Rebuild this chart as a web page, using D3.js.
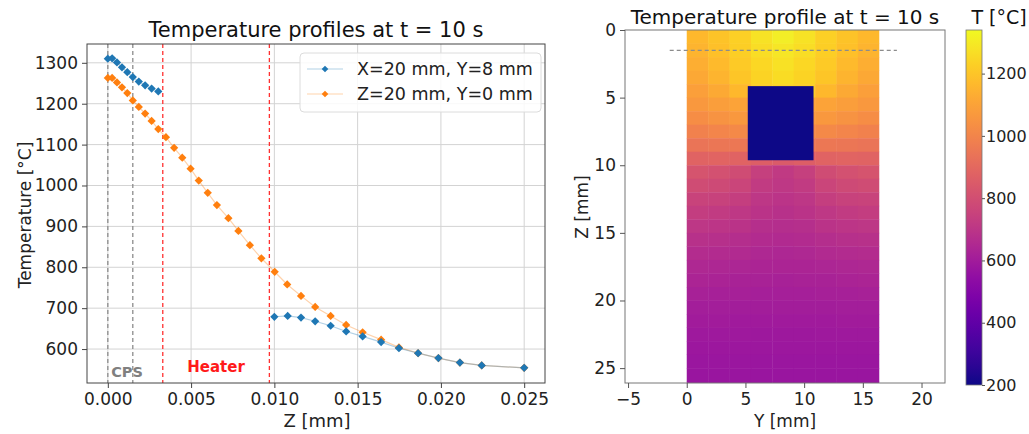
<!DOCTYPE html>
<html>
<head>
<meta charset="utf-8">
<script src="https://cdn.jsdelivr.net/npm/d3@7"></script>
<style>
  body { margin: 0; background: #fff; }
  svg { font-family: "DejaVu Sans", sans-serif; }
</style>
</head>
<body>
<svg id="chart" width="1029" height="434"></svg>
<script>
// ---- left plot data (Z in metres, T in °C) ----
var zBlue = [0, 0.00026, 0.00055, 0.00085, 0.00117, 0.0015, 0.00186, 0.00224, 0.00263, 0.00303,
             null,
             0.0100, 0.0108, 0.0116, 0.01245, 0.01338, 0.01431, 0.0153, 0.01641, 0.01748, 0.01863, 0.01985, 0.02114, 0.02245, 0.0250];
var tBlue = [1310, 1311, 1301, 1289, 1277, 1265, 1254, 1245, 1237, 1230,
             null,
             679, 681, 677, 668, 657, 643, 631, 617, 602, 590, 578, 567, 560, 554];

var zOrange = [0, 0.00026, 0.00055, 0.00085, 0.00117, 0.0015, 0.00186, 0.00224, 0.00263, 0.00303,
               0.00349, 0.00398, 0.00447, 0.00497, 0.00546, 0.0060, 0.00655, 0.00724, 0.00784, 0.00853, 0.00922,
               0.01002, 0.01077, 0.0116, 0.01245, 0.01338, 0.01431, 0.0153, 0.01641, 0.01748, 0.01863, 0.01985, 0.02114, 0.02245, 0.0250];
var tOrange = [1263, 1263, 1252, 1240, 1226, 1208, 1192, 1176, 1158, 1138,
               1118, 1092, 1068, 1041, 1012, 982, 952, 920, 889, 854, 822,
               789, 758, 730, 703, 681, 659, 641, 623, 604, 590, 578, 567, 560, 554];

var seriesNames = ["X=20 mm, Y=8 mm", "Z=20 mm, Y=0 mm"];
var seriesColors = ["#1f77b4", "#ff7f0e"];

var leftXTicks = [0, 0.005, 0.010, 0.015, 0.020, 0.025];
var leftYTicks = [600, 700, 800, 900, 1000, 1100, 1200, 1300];
var cpsLines = [0, 0.0015];       // grey dashed
var heaterLines = [0.0033, 0.0097]; // red dashed

// ---- right plot data (heat map, rows = 1 mm in Z, columns across Y 0..16.4 mm) ----
var heatWidth = 16.4;
var heatDepth = 26.1;
var heatRows = [
  [1165, 1195, 1230, 1280, 1310, 1280, 1230, 1195, 1165],
  [1150, 1185, 1225, 1265, 1290, 1265, 1225, 1185, 1150],
  [1135, 1170, 1215, 1250, 1275, 1250, 1215, 1170, 1135],
  [1115, 1150, 1200, 1240, 1260, 1240, 1200, 1150, 1115],
  [1090, 1120, 1165, 1225, 1240, 1225, 1165, 1120, 1090],
  [1065, 1085, 1100, 1100, 1100, 1100, 1100, 1085, 1065],
  [1030, 1050, 1065, 1065, 1065, 1065, 1065, 1050, 1030],
  [990, 1005, 1015, 1015, 1015, 1015, 1015, 1005, 990],
  [940, 950, 955, 955, 955, 955, 955, 950, 940],
  [880, 885, 880, 860, 850, 860, 880, 885, 880],
  [820, 810, 790, 740, 720, 740, 790, 810, 820],
  [790, 780, 765, 725, 710, 725, 765, 780, 790],
  [755, 750, 735, 705, 695, 705, 735, 750, 755],
  [730, 722, 712, 690, 682, 690, 712, 722, 730],
  [705, 700, 690, 675, 668, 675, 690, 700, 705],
  [685, 680, 672, 662, 657, 662, 672, 680, 685],
  [665, 662, 655, 648, 645, 648, 655, 662, 665],
  [648, 645, 640, 636, 634, 636, 640, 645, 648],
  [633, 630, 627, 624, 622, 624, 627, 630, 633],
  [620, 618, 615, 613, 612, 613, 615, 618, 620],
  [608, 607, 605, 603, 602, 603, 605, 607, 608],
  [598, 597, 596, 595, 594, 595, 596, 597, 598],
  [590, 589, 588, 587, 587, 587, 588, 589, 590],
  [582, 582, 581, 580, 580, 580, 581, 582, 582],
  [576, 576, 575, 575, 575, 575, 575, 576, 576],
  [570, 570, 570, 570, 570, 570, 570, 570, 570],
  [566, 566, 566, 566, 566, 566, 566, 566, 566]
];
// sample block (Y0, Y1, Z0, Z1 in mm, T)
var sampleBlock = [5.2, 10.8, 4.15, 9.63, 200];
var cpsDepth = 1.5;
var cpsLineY = [-1.45, 17.9];

var rightXTicks = [-5, 0, 5, 10, 15, 20];
var rightYTicks = [0, 5, 10, 15, 20, 25];
var cbarTicks = [200, 400, 600, 800, 1000, 1200];
var cbarDomain = [200, 1340];

var svg = d3.select("#chart");

// =============== left plot ===============
var L = { left: 87, right: 545, top: 44, bottom: 383 };
var x = d3.scaleLinear().domain([-0.00125, 0.02625]).range([L.left, L.right]);
var y = d3.scaleLinear().domain([517, 1346]).range([L.bottom, L.top]);

var gL = svg.append("g");

// grid
gL.selectAll(".gx").data(leftXTicks).enter().append("line")
  .attr("x1", d => x(d)).attr("x2", d => x(d))
  .attr("y1", L.top).attr("y2", L.bottom)
  .attr("stroke", "#d3d3d3").attr("stroke-width", 1);
gL.selectAll(".gy").data(leftYTicks).enter().append("line")
  .attr("x1", L.left).attr("x2", L.right)
  .attr("y1", d => y(d)).attr("y2", d => y(d))
  .attr("stroke", "#d3d3d3").attr("stroke-width", 1);

// dashed region markers
gL.selectAll(".cps").data(cpsLines).enter().append("line")
  .attr("x1", d => x(d)).attr("x2", d => x(d))
  .attr("y1", L.top).attr("y2", L.bottom)
  .attr("stroke", "#8c8c8c").attr("stroke-width", 1.3).attr("stroke-dasharray", "4,3");
gL.selectAll(".heat").data(heaterLines).enter().append("line")
  .attr("x1", d => x(d)).attr("x2", d => x(d))
  .attr("y1", L.top).attr("y2", L.bottom)
  .attr("stroke", "#ff3030").attr("stroke-width", 1.3).attr("stroke-dasharray", "4,3");

gL.append("text").attr("x", 127).attr("y", 377).attr("text-anchor", "middle")
  .attr("font-size", 14.5).attr("font-weight", "bold").attr("fill", "#808080").text("CPS");
gL.append("text").attr("x", 216).attr("y", 372).attr("text-anchor", "middle")
  .attr("font-size", 15).attr("font-weight", "bold").attr("fill", "#ff1a1a").text("Heater");

// series
var series = [
  d3.zip(zBlue, tBlue),
  d3.zip(zOrange, tOrange)
];
var line = d3.line()
  .defined(d => d[0] != null && d[1] != null)
  .x(d => x(d[0])).y(d => y(d[1]));
var diamond = d3.symbol().type(d3.symbolSquare).size(34);

// orange first so blue points sit on top where they overlap
[1, 0].forEach(function(i) {
  var s = series[i];
  gL.append("path").datum(s)
    .attr("d", line)
    .attr("fill", "none")
    .attr("stroke", seriesColors[i])
    .attr("stroke-opacity", 0.35)
    .attr("stroke-width", 1.2);
  gL.selectAll(".pt" + i).data(s.filter(d => d[0] != null)).enter().append("path")
    .attr("d", diamond)
    .attr("transform", d => "translate(" + x(d[0]) + "," + y(d[1]) + ") rotate(45)")
    .attr("fill", seriesColors[i]);
});

// frame and axes
gL.append("rect").attr("x", L.left).attr("y", L.top)
  .attr("width", L.right - L.left).attr("height", L.bottom - L.top)
  .attr("fill", "none").attr("stroke", "#444").attr("stroke-width", 1);

var xAxisL = gL.append("g").attr("transform", "translate(0," + L.bottom + ")")
  .call(d3.axisBottom(x).tickValues(leftXTicks).tickFormat(d3.format(".3f")).tickSizeOuter(0).tickSize(5).tickPadding(4));
var yAxisL = gL.append("g").attr("transform", "translate(" + L.left + ",0)")
  .call(d3.axisLeft(y).tickValues(leftYTicks).tickFormat(d3.format("d")).tickSizeOuter(0).tickSize(5).tickPadding(4));
[xAxisL, yAxisL].forEach(function(a) {
  a.select(".domain").remove();
  a.selectAll("text").attr("font-size", 17).attr("fill", "#222").attr("font-family", "DejaVu Sans");
  a.selectAll("line").attr("stroke", "#444");
});
xAxisL.selectAll("text").attr("dy", "0.75em");

gL.append("text").attr("x", 316).attr("y", 37).attr("text-anchor", "middle")
  .attr("font-size", 21).attr("fill", "#111").text("Temperature profiles at t = 10 s");
gL.append("text").attr("x", 317).attr("y", 427).attr("text-anchor", "middle")
  .attr("font-size", 18).attr("fill", "#222").text("Z [mm]");
gL.append("text").attr("transform", "translate(31,215) rotate(-90)").attr("text-anchor", "middle")
  .attr("font-size", 17).attr("fill", "#222").text("Temperature [°C]");

// legend
var leg = gL.append("g");
leg.append("rect").attr("x", 300).attr("y", 53).attr("width", 241).attr("height", 59)
  .attr("rx", 4).attr("fill", "#fff").attr("fill-opacity", 0.85)
  .attr("stroke", "#dcdcdc");
seriesNames.forEach(function(name, i) {
  var ly = 69 + i * 25;
  leg.append("line").attr("x1", 307).attr("x2", 343).attr("y1", ly).attr("y2", ly)
    .attr("stroke", seriesColors[i]).attr("stroke-opacity", 0.35).attr("stroke-width", 1.2);
  leg.append("path").attr("d", d3.symbol().type(d3.symbolSquare).size(22))
    .attr("transform", "translate(325," + ly + ") rotate(45)").attr("fill", seriesColors[i]);
  leg.append("text").attr("x", 357).attr("y", ly + 6).attr("font-size", 17.5)
    .attr("fill", "#222").text(name);
});

// =============== right plot (heat map) ===============
var R = { left: 625, right: 945, top: 30, bottom: 383 };
var xr = d3.scaleLinear().domain([-5.26, 22.0]).range([R.left, R.right]);
var yr = d3.scaleLinear().domain([0, heatDepth]).range([R.top, R.bottom]);
var color = d3.scaleSequential(d3.interpolatePlasma).domain(cbarDomain);

var gR = svg.append("g");
var nCols = heatRows[0].length;
var colW = heatWidth / nCols;
heatRows.forEach(function(row, i) {
  var z0 = i, z1 = Math.min(i + 1, heatDepth);
  gR.selectAll(".c" + i).data(row).enter().append("rect")
    .attr("x", (d, j) => xr(j * colW))
    .attr("y", yr(z0))
    .attr("width", (d, j) => xr((j + 1) * colW) - xr(j * colW) + (j < nCols - 1 ? 0.4 : 0))
    .attr("height", yr(z1) - yr(z0) + (z1 < heatDepth ? 0.4 : 0))
    .attr("fill", d => color(d));
});
gR.append("rect")
  .attr("x", xr(sampleBlock[0])).attr("y", yr(sampleBlock[2]))
  .attr("width", xr(sampleBlock[1]) - xr(sampleBlock[0]))
  .attr("height", yr(sampleBlock[3]) - yr(sampleBlock[2]))
  .attr("fill", color(sampleBlock[4]));
gR.append("line")
  .attr("x1", xr(cpsLineY[0])).attr("x2", xr(cpsLineY[1]))
  .attr("y1", yr(cpsDepth)).attr("y2", yr(cpsDepth))
  .attr("stroke", "#8c8c8c").attr("stroke-width", 1.2).attr("stroke-dasharray", "4,3");

gR.append("rect").attr("x", R.left).attr("y", R.top)
  .attr("width", R.right - R.left).attr("height", R.bottom - R.top)
  .attr("fill", "none").attr("stroke", "#777").attr("stroke-width", 1);

var xAxisR = gR.append("g").attr("transform", "translate(0," + R.bottom + ")")
  .call(d3.axisBottom(xr).tickValues(rightXTicks).tickFormat(d => d < 0 ? "\u2212" + (-d) : d).tickSizeOuter(0).tickSize(5).tickPadding(4));
var yAxisR = gR.append("g").attr("transform", "translate(" + R.left + ",0)")
  .call(d3.axisLeft(yr).tickValues(rightYTicks).tickSizeOuter(0).tickSize(5).tickPadding(4));
[xAxisR, yAxisR].forEach(function(a) {
  a.select(".domain").remove();
  a.selectAll("text").attr("font-size", 17).attr("fill", "#222").attr("font-family", "DejaVu Sans");
  a.selectAll("line").attr("stroke", "#555");
});
xAxisR.selectAll("text").attr("dy", "0.75em");

gR.append("text").attr("x", 785).attr("y", 24).attr("text-anchor", "middle")
  .attr("font-size", 20).attr("fill", "#111").text("Temperature profile at t = 10 s");
gR.append("text").attr("x", 785).attr("y", 427).attr("text-anchor", "middle")
  .attr("font-size", 17).attr("fill", "#222").text("Y [mm]");
gR.append("text").attr("transform", "translate(588,207) rotate(-90)").attr("text-anchor", "middle")
  .attr("font-size", 17).attr("fill", "#222").text("Z [mm]");

// colour bar
var C = { left: 966, right: 982, top: 30, bottom: 385 };
var yc = d3.scaleLinear().domain(cbarDomain).range([C.bottom, C.top]);
var grad = svg.append("defs").append("linearGradient").attr("id", "cbar")
  .attr("x1", 0).attr("y1", 1).attr("x2", 0).attr("y2", 0);
d3.range(0, 1.0001, 0.05).forEach(function(t) {
  grad.append("stop").attr("offset", t).attr("stop-color", d3.interpolatePlasma(t));
});
svg.append("rect").attr("x", C.left).attr("y", C.top)
  .attr("width", C.right - C.left).attr("height", C.bottom - C.top)
  .attr("fill", "url(#cbar)").attr("stroke", "#777").attr("stroke-width", 0.8);
var cAxis = svg.append("g").attr("transform", "translate(" + C.right + ",0)")
  .call(d3.axisRight(yc).tickValues(cbarTicks).tickFormat(d3.format("d")).tickSizeOuter(0).tickSize(3).tickPadding(1));
cAxis.select(".domain").remove();
cAxis.selectAll("text").attr("font-size", 16).attr("fill", "#222").attr("font-family", "DejaVu Sans");
cAxis.selectAll("line").attr("stroke", "#555");
svg.append("text").attr("x", 999).attr("y", 24).attr("text-anchor", "middle")
  .attr("font-size", 19).attr("fill", "#111").text("T [°C]");
</script>
</body>
</html>
